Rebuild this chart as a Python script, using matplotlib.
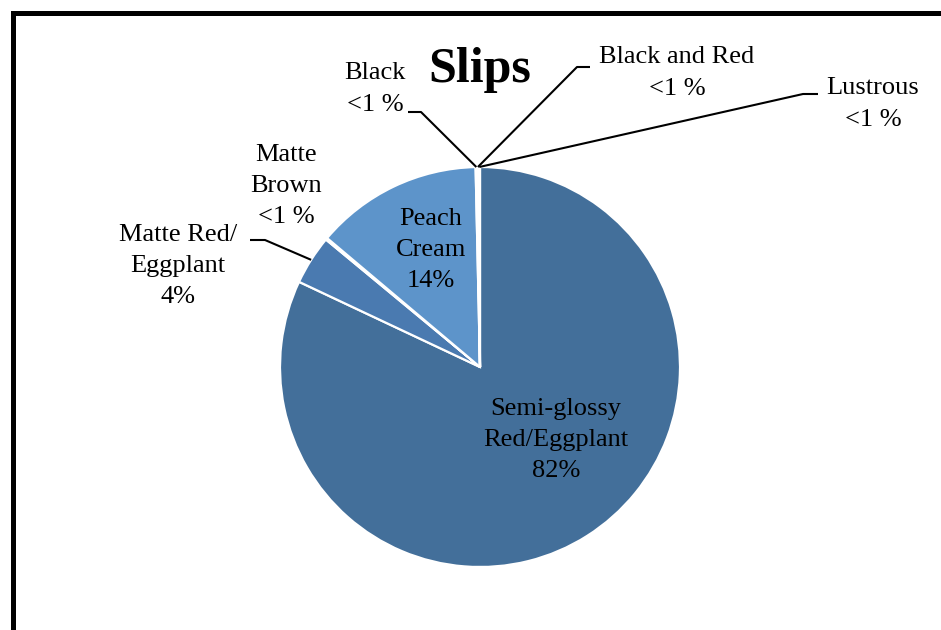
import numpy as np
import matplotlib
matplotlib.use("Agg")
import matplotlib.pyplot as plt
from matplotlib.patches import Rectangle

categories = ["Semi-glossy\nRed/Eggplant", "Matte Red/\nEggplant", "Matte\nBrown",
              "Peach\nCream", "Black", "Black and Red", "Lustrous"]
values = [82.0, 4.0, 0.15, 13.5, 0.12, 0.12, 0.11]
pct_labels = ["82%", "4%", "<1 %", "14%", "<1 %", "<1 %", "<1 %"]
colors = ["#436F9A", "#4A7AB0", "#5484BC", "#5D94CA", "#9DBBDD", "#8FB0D6", "#7FA3CF"]

W, H = 941, 630
fig = plt.figure(figsize=(W / 100, H / 100), dpi=100)
ax = fig.add_axes([0, 0, 1, 1])

def P(x, y):
    return x, H - y

cx, cy = P(480, 367)
R = 200
wedges, _ = ax.pie(values, colors=colors, startangle=90, counterclock=False,
                   center=(cx, cy), radius=R, frame=True,
                   wedgeprops=dict(edgecolor="white", linewidth=1.6))
ax.set_xlim(0, W)
ax.set_ylim(0, H)
ax.set_aspect("equal")
ax.axis("off")

font = "Liberation Serif"
fs = 19

# label positions (pixel centers) and leader knees
label_pos = [P(556, 440), P(178, 266), P(286, 186), P(431, 250),
             P(375, 89), P(677, 73), P(873, 104)]
leaders = {
    1: [P(250, 240), P(265, 240)],
    4: [P(408, 112), P(421, 112)],
    5: [P(590, 67), P(577, 67)],
    6: [P(818, 94), P(803, 94)],
}

for i, (cat, pct) in enumerate(zip(categories, pct_labels)):
    x, y = label_pos[i]
    ax.text(x, y, f"{cat}\n{pct}", ha="center", va="center", fontsize=fs,
            family=font, linespacing=1.55, color="black")
    if i in leaders:
        w = wedges[i]
        mid = np.deg2rad((w.theta1 + w.theta2) / 2)
        ex, ey = cx + R * np.cos(mid), cy + R * np.sin(mid)
        (x0, y0), (x1, y1) = leaders[i]
        ax.plot([x0, x1, ex], [y0, y1, ey], color="black", lw=1.5,
                solid_capstyle="butt", zorder=5)

ax.text(*P(480, 70), "Slips", ha="center", va="center", fontsize=36,
        fontweight="bold", family=font)

fig.patches.append(Rectangle((12.5, -50), 1100, H - 12.5 + 50, transform=None,
                             fill=False, edgecolor="black", linewidth=3.6))

fig.savefig("out.png", dpi=100, facecolor="white")
